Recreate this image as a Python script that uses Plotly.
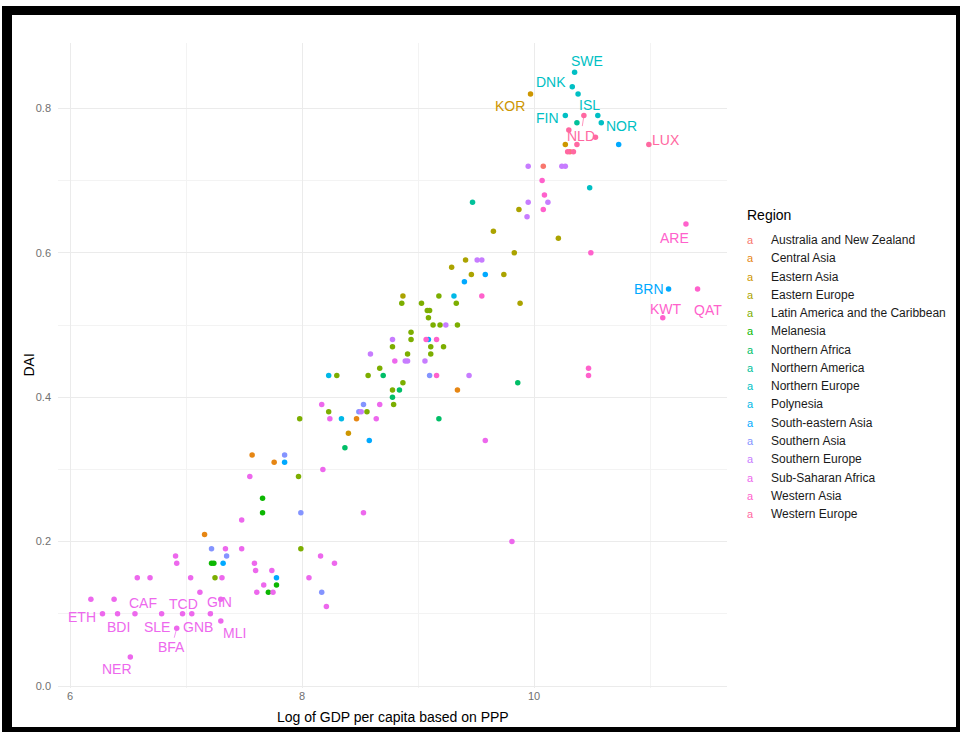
import math
import plotly.graph_objects as go

# ---------------- data ----------------
regions = ["Australia and New Zealand", "Central Asia", "Eastern Asia", "Eastern Europe",
           "Latin America and the Caribbean", "Melanesia", "Northern Africa", "Northern America",
           "Northern Europe", "Polynesia", "South-eastern Asia", "Southern Asia",
           "Southern Europe", "Sub-Saharan Africa", "Western Asia", "Western Europe"]

ANZ, CAS, EAS, EEU, LAC, MEL, NAF, NAM, NEU, POL, SEA, SAS, SEU, SSA, WAS, WEU = regions

# labelled countries
label_iso = ["SWE", "DNK", "KOR", "FIN", "NLD", "ISL", "NOR", "LUX", "ARE", "BRN", "QAT", "KWT",
             "ETH", "BDI", "CAF", "SLE", "TCD", "GNB", "GIN", "MLI", "BFA", "NER"]
label_gdp = [10.35, 10.33, 9.97, 10.27, 10.43, 10.55, 10.58, 10.99, 11.31, 11.16, 11.41, 11.11,
             6.28, 6.41, 6.56, 6.79, 6.97, 7.05, 7.21, 7.30, 6.92, 6.52]
label_dai = [0.85, 0.83, 0.82, 0.79, 0.79, 0.79, 0.78, 0.75, 0.64, 0.55, 0.55, 0.51,
             0.10, 0.10, 0.10, 0.10, 0.10, 0.10, 0.10, 0.09, 0.08, 0.04]
label_region = [NEU, NEU, EAS, NEU, WEU, NEU, NEU, WEU, WAS, SEA, WAS, WAS,
                SSA, SSA, SSA, SSA, SSA, SSA, SSA, SSA, SSA, SSA]

# other countries
log_gdp = [10.38, 10.37, 10.30, 10.53, 10.27, 10.37, 10.29, 10.31, 10.34, 10.73,
           9.95, 10.08, 10.24, 10.27, 10.07, 10.09, 10.08, 9.95, 10.12, 9.94,
           9.47, 9.87, 10.48, 9.65, 10.21, 9.83, 10.49, 9.41, 9.51, 9.55,
           9.29, 9.46, 9.58, 9.74, 9.40, 8.87, 9.18, 9.31, 9.55, 8.86,
           9.03, 9.33, 9.88, 9.08, 9.10, 9.09, 9.13, 9.19, 9.24, 9.34,
           8.94, 8.94, 9.07, 9.09, 9.16, 8.78, 8.78, 9.11, 9.22, 8.91,
           9.11, 8.59, 8.80, 8.89, 8.91, 9.06, 8.67, 8.70, 8.57, 8.23,
           8.30, 9.10, 9.16, 9.44, 10.47, 10.47, 8.87, 9.86, 8.78, 8.84,
           9.34, 8.78, 8.79, 8.17, 8.53, 8.67, 8.23, 8.49, 8.51, 8.56,
           7.98, 8.24, 8.34, 8.47, 8.64, 9.18, 9.58, 8.40, 8.58, 8.37,
           7.57, 7.76, 7.85, 7.85, 8.18, 7.97, 7.55, 7.66, 7.66, 7.99,
           8.53, 7.48, 9.81, 7.16, 7.22, 7.34, 7.48, 7.99, 6.91, 7.35,
           8.16, 6.92, 7.22, 7.24, 7.32, 7.59, 8.28, 7.60, 7.74, 6.58,
           6.69, 7.04, 7.25, 7.31, 7.78, 8.06, 7.67, 7.78, 7.12, 7.61,
           7.71, 7.75, 8.17, 6.18, 6.38, 7.30, 8.21]

dai = [0.82, 0.78, 0.77, 0.76, 0.75, 0.75, 0.74, 0.74, 0.74, 0.75,
       0.72, 0.72, 0.72, 0.72, 0.70, 0.68, 0.66, 0.67, 0.67, 0.65,
       0.67, 0.66, 0.69, 0.63, 0.62, 0.60, 0.60, 0.59, 0.59, 0.59,
       0.58, 0.57, 0.57, 0.57, 0.56, 0.54, 0.54, 0.54, 0.54, 0.53,
       0.53, 0.53, 0.53, 0.52, 0.52, 0.51, 0.50, 0.50, 0.50, 0.50,
       0.49, 0.48, 0.48, 0.48, 0.48, 0.48, 0.47, 0.47, 0.47, 0.46,
       0.46, 0.46, 0.45, 0.45, 0.45, 0.45, 0.44, 0.43, 0.43, 0.43,
       0.43, 0.43, 0.43, 0.43, 0.44, 0.43, 0.42, 0.42, 0.41, 0.41,
       0.41, 0.40, 0.39, 0.39, 0.39, 0.39, 0.38, 0.38, 0.38, 0.38,
       0.37, 0.37, 0.37, 0.37, 0.37, 0.37, 0.34, 0.35, 0.34, 0.33,
       0.32, 0.31, 0.32, 0.31, 0.30, 0.29, 0.29, 0.26, 0.24, 0.24,
       0.24, 0.23, 0.20, 0.21, 0.19, 0.19, 0.19, 0.19, 0.18, 0.18,
       0.18, 0.17, 0.17, 0.17, 0.17, 0.17, 0.17, 0.16, 0.16, 0.15,
       0.15, 0.15, 0.15, 0.15, 0.15, 0.15, 0.14, 0.14, 0.13, 0.13,
       0.13, 0.13, 0.13, 0.12, 0.12, 0.12, 0.11]

region = [NEU, NAM, WEU, WEU, EAS, WEU, WEU, ANZ, WEU, SEA,
          SEU, ANZ, SEU, SEU, WAS, WAS, WAS, SEU, SEU, SEU,
          NAM, EEU, NEU, EEU, EEU, EEU, WAS, EEU, SEU, SEU,
          EEU, EEU, SEA, EEU, SEA, EEU, LAC, POL, WAS, LAC,
          LAC, LAC, EEU, LAC, LAC, LAC, LAC, LAC, SEU, LAC,
          LAC, LAC, WAS, SEA, WAS, SEU, LAC, LAC, LAC, LAC,
          LAC, SEU, SSA, SEU, SEU, SEU, LAC, NAF, LAC, POL,
          LAC, SAS, WAS, SEU, WAS, WAS, LAC, NAF, LAC, NAF,
          CAS, NAF, LAC, SSA, SAS, SSA, LAC, SAS, SEU, LAC,
          LAC, SSA, POL, CAS, SSA, NAF, SSA, EAS, SEA, NAF,
          CAS, CAS, SAS, SEA, SSA, LAC, SSA, MEL, MEL, SAS,
          SSA, SSA, SSA, CAS, SAS, SSA, SSA, LAC, SSA, SAS,
          SSA, SSA, MEL, MEL, SEA, SSA, SSA, SSA, SSA, SSA,
          SSA, SSA, LAC, SSA, SEA, SSA, SSA, MEL, SSA, SSA,
          MEL, SSA, SAS, SSA, SSA, SSA, SSA]

x_ticks = [6, 8, 10]
y_ticks = [0.0, 0.2, 0.4, 0.6, 0.8]

# ---------------- styling ----------------
def hcl_hex(h, c=100.0, l=65.0):
    hr = math.radians(h)
    U, V = c * math.cos(hr), c * math.sin(hr)
    Xn, Yn, Zn = 95.047, 100.0, 108.883
    Y = Yn * ((l + 16) / 116) ** 3 if l > 7.999592 else Yn * l / 903.3
    t = Xn + Yn + Zn
    xw, yw = Xn / t, Yn / t
    uN = 2 * xw / (6 * yw - xw + 1.5)
    vN = 4.5 * yw / (6 * yw - xw + 1.5)
    u = U / (13 * l) + uN
    v = V / (13 * l) + vN
    X = 9.0 * Y * u / (4 * v)
    Z = -X / 3 - 5 * Y + 3 * Y / v
    X, Y, Z = X / 100, Y / 100, Z / 100
    rgb = [3.240479 * X - 1.537150 * Y - 0.498535 * Z,
           -0.969256 * X + 1.875992 * Y + 0.041556 * Z,
           0.055648 * X - 0.204043 * Y + 1.057311 * Z]
    out = []
    for ch in rgb:
        ch = 12.92 * ch if ch <= 0.0031308 else 1.055 * ch ** (1 / 2.4) - 0.055
        ch = min(1.0, max(0.0, ch))
        out.append(int(round(ch * 255)))
    return "#%02X%02X%02X" % tuple(out)

n = len(regions)
hues = [15 + 360 * i / n for i in range(n)]
colors = {r: hcl_hex(h) for r, h in zip(regions, hues)}

FONT = "Liberation Sans, Arial, sans-serif"
L, R, T, B = 58, 233, 43, 44
W, H = 960, 732
PW, PH = W - L - R, H - T - B

def xp(px):
    return (px - L) / PW

def yp(py):
    return (H - B - py) / PH

# label offsets in screen px (dx right, dy down), and whether a segment is drawn
label_style = {
    "SWE": (12, -11, False), "DNK": (-21, -5, False), "KOR": (-21, 12, False),
    "FIN": (-18, 2, False), "ISL": (-8, -11, False), "NOR": (20, 3, False),
    "NLD": (-3, 20, True), "LUX": (17, -5, False), "ARE": (-11, 14, False),
    "BRN": (-20, 0, False), "KWT": (3, -9, False), "QAT": (10, 21, False),
    "ETH": (-20, 3, False), "BDI": (1, 13, False), "CAF": (8, -11, False),
    "SLE": (-5, 13, False), "TCD": (1, -10, False), "GNB": (6, 13, False),
    "GIN": (9, -12, True), "MLI": (14, 12, False), "BFA": (-5, 19, True),
    "NER": (-13, 12, False),
}

fig = go.Figure()
all_gdp = log_gdp + label_gdp
all_dai = dai + label_dai
all_region = region + label_region
for r in regions:
    xs = [x for x, rr in zip(all_gdp, all_region) if rr == r]
    ys = [y for y, rr in zip(all_dai, all_region) if rr == r]
    fig.add_trace(go.Scatter(x=xs, y=ys, mode="markers", name=r, showlegend=False,
                             marker=dict(size=5.5, color=colors[r], line=dict(width=0)),
                             hoverinfo="skip"))

annotations = []
for code, x, y, r in zip(label_iso, label_gdp, label_dai, label_region):
    dx, dy, seg = label_style[code]
    col = colors[r]
    if seg:
        annotations.append(dict(x=x, y=y, xref="x", yref="y", text=code, showarrow=True,
                                ax=dx, ay=dy, arrowhead=0, arrowwidth=0.7, arrowcolor=col,
                                standoff=2, font=dict(family=FONT, size=14, color=col)))
    else:
        annotations.append(dict(x=x, y=y, xref="x", yref="y", text=code, showarrow=False,
                                xshift=dx, yshift=-dy, font=dict(family=FONT, size=14, color=col)))

# manual legend mimicking ggplot text-key legend
annotations.append(dict(x=xp(745), y=yp(215), xref="paper", yref="paper", text="Region",
                        showarrow=False, xanchor="left", yanchor="middle",
                        font=dict(family=FONT, size=14, color="#000000")))
for i, r in enumerate(regions):
    py = 240 + i * 18.27
    annotations.append(dict(x=xp(750), y=yp(py), xref="paper", yref="paper", text="a",
                            showarrow=False, xanchor="center", yanchor="middle",
                            font=dict(family=FONT, size=11, color=colors[r])))
    annotations.append(dict(x=xp(769), y=yp(py), xref="paper", yref="paper", text=r,
                            showarrow=False, xanchor="left", yanchor="middle",
                            font=dict(family=FONT, size=12, color="#1a1a1a")))

# axis titles
annotations.append(dict(x=0.5, y=yp(717), xref="paper", yref="paper",
                        text="Log of GDP per capita based on PPP", showarrow=False,
                        xanchor="center", yanchor="middle",
                        font=dict(family=FONT, size=14, color="#000000")))
annotations.append(dict(x=xp(28), y=0.5, xref="paper", yref="paper", text="DAI",
                        showarrow=False, textangle=-90, xanchor="center", yanchor="middle",
                        font=dict(family=FONT, size=14, color="#000000")))

# black photo frame
frame = [(2, 6, 960, 15), (2, 6, 12, 732), (2, 727, 960, 732), (956, 6, 960, 732)]
shapes = [dict(type="rect", xref="paper", yref="paper", x0=xp(a), x1=xp(c), y0=yp(d), y1=yp(b),
               fillcolor="#000000", line=dict(width=0), layer="above") for a, b, c, d in frame]

px_to_x = lambda px: 6 + (px - 70) / 116
py_to_y = lambda py: (686 - py) / 722

fig.update_layout(
    width=W, height=H,
    margin=dict(l=L, r=R, t=T, b=B, pad=0),
    paper_bgcolor="white", plot_bgcolor="white",
    font=dict(family=FONT),
    showlegend=False,
    annotations=annotations,
    shapes=shapes,
    xaxis=dict(range=[px_to_x(L), px_to_x(W - R)], tickvals=x_ticks, ticktext=[str(v) for v in x_ticks],
               showgrid=True, gridcolor="#EBEBEB", gridwidth=1, zeroline=False, showline=False,
               ticks="", tickfont=dict(family=FONT, size=11, color="#707070"),
               minor=dict(dtick=1, tick0=6, showgrid=True, gridcolor="#F3F3F3", gridwidth=0.8)),
    yaxis=dict(range=[py_to_y(H - B), py_to_y(T)], tickvals=y_ticks,
               ticktext=["%.1f" % v for v in y_ticks],
               showgrid=True, gridcolor="#EBEBEB", gridwidth=1, zeroline=False, showline=False,
               ticks="", ticklabelstandoff=6, tickfont=dict(family=FONT, size=11, color="#707070"),
               minor=dict(dtick=0.1, tick0=0, showgrid=True, gridcolor="#F3F3F3", gridwidth=0.8)),
)

fig.write_html("out.html", config={"displayModeBar": False},
               post_script="document.body.style.margin='0';document.body.style.overflow='hidden';")
